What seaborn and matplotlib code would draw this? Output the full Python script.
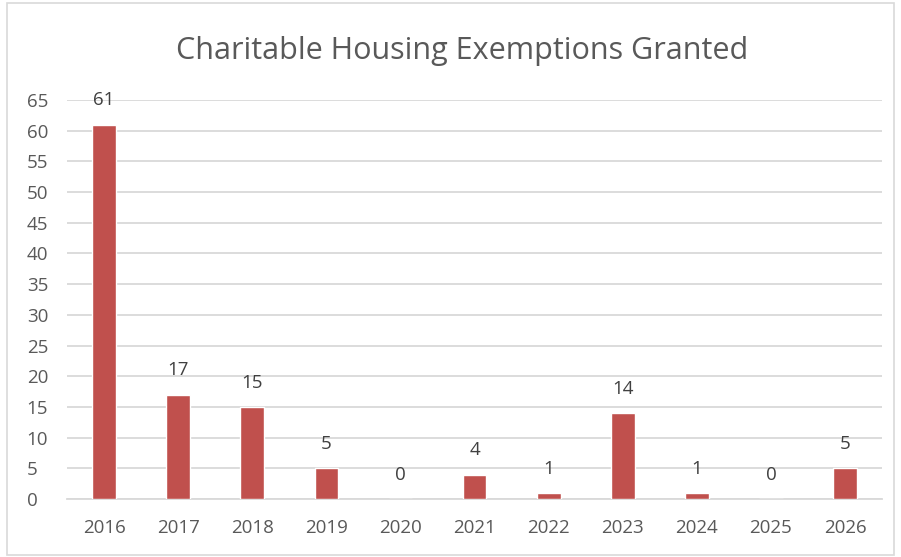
import pandas as pd
import seaborn as sns
import matplotlib.pyplot as plt
from matplotlib.patches import Rectangle

# Data
years = ["2016", "2017", "2018", "2019", "2020", "2021",
         "2022", "2023", "2024", "2025", "2026"]
granted = [61, 17, 15, 5, 0, 4, 1, 14, 1, 0, 5]

df = pd.DataFrame({"year": years, "granted": granted})

sns.set_theme(style="white")
plt.rcParams["font.family"] = ["Open Sans", "DejaVu Sans"]

text_col = "#595959"
grid_col = "#D9D9D9"
bar_col = "#C0504D"

fig = plt.figure(figsize=(9.01, 5.57), dpi=100)
ax = fig.add_axes([0.0744, 0.104, 0.9046, 0.7165])

sns.barplot(data=df, x="year", y="granted", color=bar_col,
            width=0.32, saturation=1, ax=ax, zorder=3)

# Data labels
for i, v in enumerate(granted):
    ax.annotate(str(v), (i, v), xytext=(0, 11), textcoords="offset points",
                ha="center", va="bottom", fontsize=13.5, color="#404040")

ax.set_ylim(0, 65)
ax.set_xlim(-0.5, 10.5)
ax.set_yticks(range(0, 66, 5))
ax.set_xlabel("")
ax.set_ylabel("")

ax.grid(True, axis="y", color=grid_col, linewidth=1.3, zorder=0)
ax.grid(False, axis="x")
for s in ["top", "right", "left"]:
    ax.spines[s].set_visible(False)
ax.spines["bottom"].set_color(grid_col)
ax.spines["bottom"].set_linewidth(1.3)

ax.tick_params(axis="both", length=0, labelsize=13.5, labelcolor=text_col)
ax.tick_params(axis="y", pad=29)
ax.tick_params(axis="x", pad=14)
for lbl in ax.get_yticklabels():
    lbl.set_horizontalalignment("left")

fig.text(0.513, 0.908, "Charitable Housing Exemptions Granted",
         ha="center", va="center", fontsize=22, color=text_col)

# Chart border
fig.patches.append(Rectangle((0.008, 0.004), 0.984, 0.99, transform=fig.transFigure,
                             fill=False, edgecolor=grid_col, linewidth=1.2))

fig.savefig("out.png", dpi=100)
